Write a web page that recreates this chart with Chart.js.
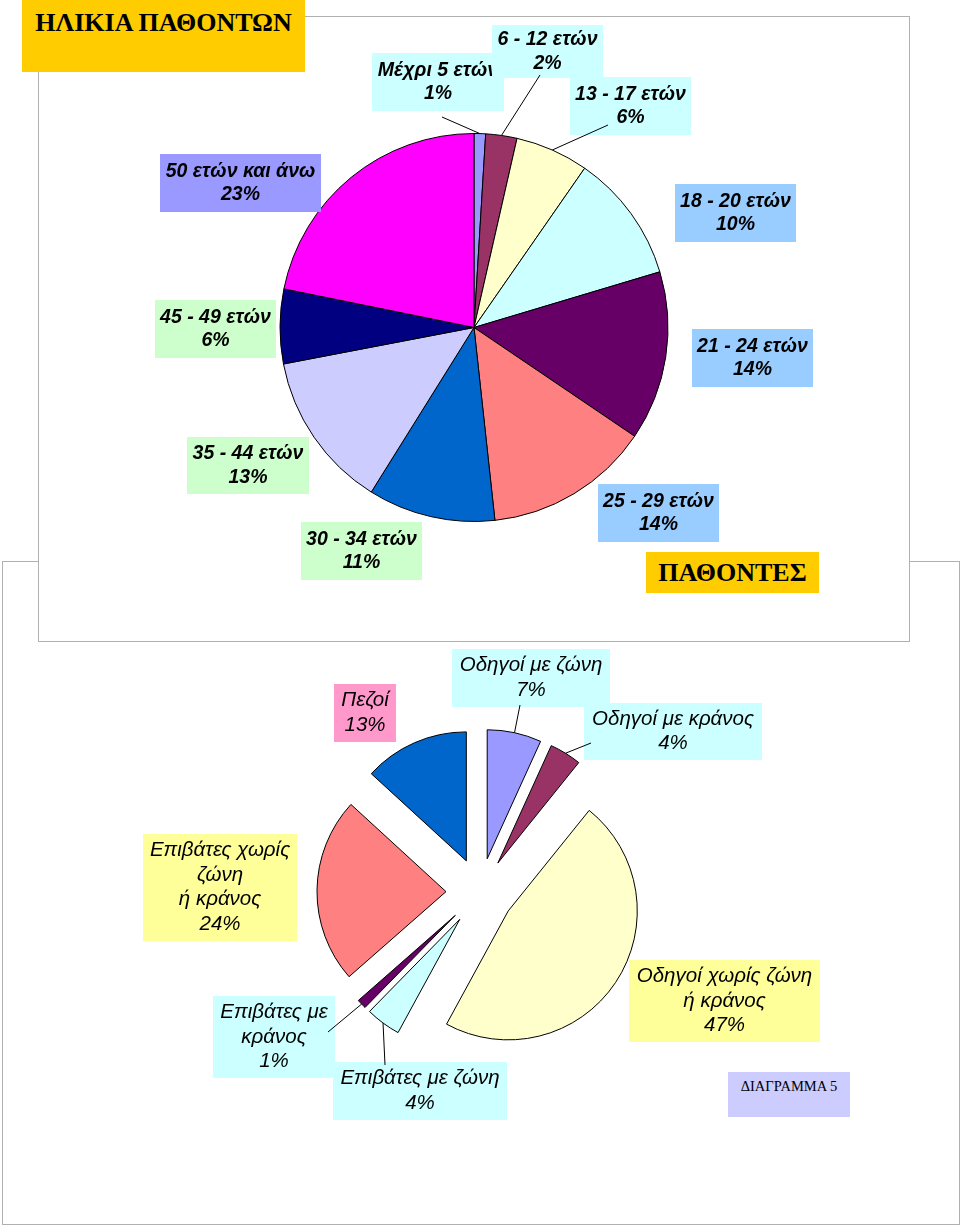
<!DOCTYPE html>
<html lang="el">
<head>
<meta charset="utf-8">
<title>Ηλικία παθόντων - Παθόντες</title>
<script src="https://cdn.jsdelivr.net/npm/chart.js@4.4.1/dist/chart.umd.min.js"></script>
<style>
  body { margin: 0; background: #fff; }
  #page { position: relative; width: 960px; height: 1228px; overflow: hidden; }
  .frame { position: absolute; box-sizing: border-box; border: 1px solid #b0b0b0; background: #fff; }
  canvas { position: absolute; left: 0; top: 0; }
  .tag { position: absolute; box-sizing: border-box; text-align: center; color: #000;
         font-family: "Liberation Serif", "Times New Roman", serif; }
</style>
</head>
<body>
<div id="page">
  <div class="frame" style="left:2px;top:561px;width:958px;height:664px;z-index:1"></div>
  <canvas id="victimsChart" width="960" height="1228" style="z-index:2"></canvas>
  <div class="frame" style="left:38px;top:16px;width:872px;height:626px;z-index:3"></div>
  <canvas id="ageChart" width="960" height="1228" style="z-index:4"></canvas>

  <div class="tag" style="left:22px;top:0;width:283px;height:72px;background:#ffcc00;font-weight:bold;font-size:26px;line-height:30px;padding-top:8px;z-index:5">ΗΛΙΚΙΑ ΠΑΘΟΝΤΩΝ</div>
  <div class="tag" style="left:646px;top:552px;width:173px;height:41px;background:#ffcc00;font-weight:bold;font-size:26px;line-height:41px;z-index:5">ΠΑΘΟΝΤΕΣ</div>
  <div class="tag" style="left:728px;top:1072px;width:122px;height:45px;background:#ccccff;font-size:14.5px;line-height:18px;padding-top:5px;z-index:5">ΔΙΑΓΡΑΜΜΑ 5</div>
</div>

<script>
// --- ηλικία παθόντων (πάνω πίτα) ---
const ageGroups = ['Μέχρι 5 ετών', '6 - 12 ετών', '13 - 17 ετών', '18 - 20 ετών', '21 - 24 ετών',
                   '25 - 29 ετών', '30 - 34 ετών', '35 - 44 ετών', '45 - 49 ετών', '50 ετών και άνω'];
const ageShares = [0.96, 2.6, 6.1, 10.7, 14.1, 13.8, 10.6, 13.1, 6.2, 21.8];
const agePercent = ['1%', '2%', '6%', '10%', '14%', '14%', '11%', '13%', '6%', '23%'];
const ageColors = ['#9999ff', '#993366', '#ffffcc', '#ccffff', '#660066',
                   '#ff8080', '#0066cc', '#ccccff', '#000080', '#ff00ff'];

// --- παθόντες (κάτω πίτα) ---
const victimGroups = [['Οδηγοί με ζώνη'], ['Οδηγοί με κράνος'], ['Οδηγοί χωρίς ζώνη', 'ή κράνος'],
                      ['Επιβάτες με ζώνη'], ['Επιβάτες με', 'κράνος'], ['Επιβάτες χωρίς', 'ζώνη', 'ή κράνος'],
                      ['Πεζοί']];
const victimShares = [6.8, 4.0, 47.2, 4.4, 1.2, 23.3, 13.2];
const victimPercent = ['7%', '4%', '47%', '4%', '1%', '24%', '13%'];
const victimColors = ['#9999ff', '#993366', '#ffffcc', '#ccffff', '#660066', '#ff8080', '#0066cc'];

// πλαίσια ετικετών: x, y, w, h, χρώμα, αρχή γραμμής οδηγού
const ageBoxes = [
  { x: 372, y: 53,  w: 132, h: 58, color: '#ccffff', lead: [442, 117] },
  { x: 492, y: 25,  w: 111, h: 53, color: '#ccffff', lead: [540, 75] },
  { x: 570, y: 77,  w: 121, h: 58, color: '#ccffff', lead: [608, 125] },
  { x: 675, y: 184, w: 121, h: 58, color: '#99ccff' },
  { x: 692, y: 329, w: 121, h: 58, color: '#99ccff' },
  { x: 598, y: 484, w: 121, h: 58, color: '#99ccff' },
  { x: 301, y: 522, w: 121, h: 58, color: '#ccffcc' },
  { x: 187, y: 437, w: 122, h: 57, color: '#ccffcc' },
  { x: 155, y: 300, w: 121, h: 58, color: '#ccffcc' },
  { x: 160, y: 154, w: 161, h: 58, color: '#9999ff' }
];
const victimBoxes = [
  { x: 452, y: 649,  w: 158, h: 58,  color: '#ccffff', lead: [520, 705] },
  { x: 584, y: 703,  w: 178, h: 57,  color: '#ccffff', lead: [591, 743] },
  { x: 629, y: 960,  w: 191, h: 82,  color: '#ffff99' },
  { x: 333, y: 1062, w: 174, h: 58,  color: '#ccffff', lead: [385, 1065] },
  { x: 213, y: 996,  w: 122, h: 82,  color: '#ccffff', lead: [328, 1032] },
  { x: 143, y: 834,  w: 154, h: 107, color: '#ffff99' },
  { x: 334, y: 684,  w: 62,  h: 58,  color: '#ff99cc' }
];

// σχεδιάζει τις φέτες (με απόσπαση) και τις ετικέτες με τις γραμμές οδηγούς
const calloutPlugin = {
  id: 'callouts',
  beforeDatasetDraw(chart, args, opts) {
    const ctx = chart.ctx;
    args.meta.data.forEach(arc => {
      const mid = (arc.startAngle + arc.endAngle) / 2;
      ctx.save();
      ctx.translate(Math.cos(mid) * opts.explode, Math.sin(mid) * opts.explode);
      arc.draw(ctx);
      ctx.restore();
    });
    return false;
  },
  afterDraw(chart, args, opts) {
    const ctx = chart.ctx;
    const arcs = chart.getDatasetMeta(0).data;
    const labels = chart.data.labels;

    opts.boxes.forEach((b, i) => {
      ctx.save();
      ctx.fillStyle = b.color;
      ctx.fillRect(b.x, b.y, b.w, b.h);
      ctx.beginPath();
      ctx.rect(b.x, b.y, b.w, b.h);
      ctx.clip();
      const lines = [].concat(labels[i], opts.percent[i]);
      ctx.fillStyle = '#000';
      ctx.font = opts.font;
      ctx.textAlign = 'center';
      ctx.textBaseline = 'middle';
      const top = b.y + b.h / 2 - (lines.length - 1) * opts.lineHeight / 2;
      lines.forEach((t, k) => ctx.fillText(t, b.x + b.w / 2, top + k * opts.lineHeight));
      ctx.restore();
    });

    ctx.save();
    ctx.strokeStyle = '#000';
    ctx.lineWidth = 1;
    opts.boxes.forEach((b, i) => {
      if (!b.lead) return;
      const arc = arcs[i];
      const mid = (arc.startAngle + arc.endAngle) / 2;
      const r = arc.outerRadius + opts.explode;
      ctx.beginPath();
      ctx.moveTo(b.lead[0], b.lead[1]);
      ctx.lineTo(arc.x + Math.cos(mid) * r, arc.y + Math.sin(mid) * r);
      ctx.stroke();
    });
    ctx.restore();
  }
};

new Chart(document.getElementById('ageChart'), {
  type: 'pie',
  data: {
    labels: ageGroups,
    datasets: [{
      data: ageShares,
      backgroundColor: ageColors,
      borderColor: '#000',
      borderWidth: 1,
      radius: 194
    }]
  },
  options: {
    responsive: false,
    animation: false,
    events: [],
    layout: { padding: { left: 0, right: 12, top: 0, bottom: 573 } },
    plugins: {
      legend: { display: false },
      tooltip: { enabled: false },
      callouts: {
        boxes: ageBoxes,
        percent: agePercent,
        explode: 0,
        font: 'italic bold 19.5px "Liberation Sans", Arial, sans-serif',
        lineHeight: 23.5
      }
    }
  },
  plugins: [calloutPlugin]
});

new Chart(document.getElementById('victimsChart'), {
  type: 'pie',
  data: {
    labels: victimGroups,
    datasets: [{
      data: victimShares,
      backgroundColor: victimColors,
      borderColor: '#000',
      borderWidth: 1,
      radius: 129
    }]
  },
  options: {
    responsive: false,
    animation: false,
    events: [],
    layout: { padding: { left: 0, right: 0, top: 556, bottom: 0 } },
    plugins: {
      legend: { display: false },
      tooltip: { enabled: false },
      callouts: {
        boxes: victimBoxes,
        percent: victimPercent,
        explode: 34,
        font: 'italic 20.5px "Liberation Sans", Arial, sans-serif',
        lineHeight: 24.5
      }
    }
  },
  plugins: [calloutPlugin]
});
</script>
</body>
</html>
